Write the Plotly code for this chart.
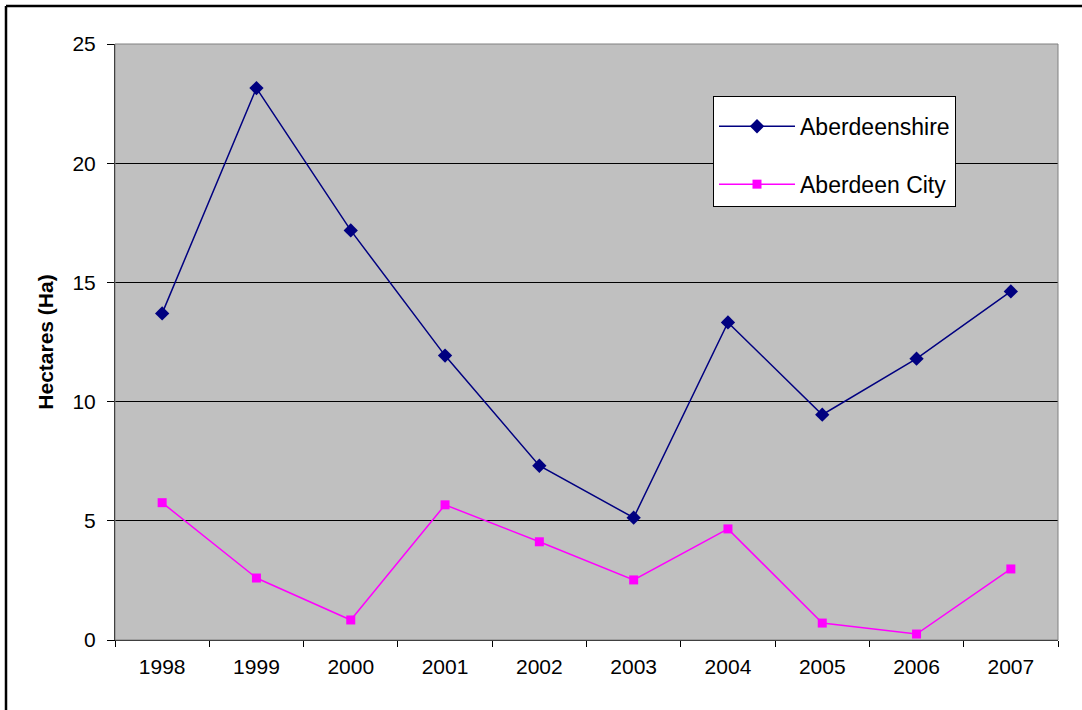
import plotly.graph_objects as go

years = ["1998", "1999", "2000", "2001", "2002", "2003", "2004", "2005", "2006", "2007"]
aberdeenshire = [13.7, 23.15, 17.18, 11.93, 7.31, 5.13, 13.32, 9.45, 11.8, 14.62]
aberdeen_city = [5.76, 2.6, 0.84, 5.67, 4.12, 2.52, 4.66, 0.71, 0.25, 2.98]

W, H = 1082, 710
L, R, T, B = 115, 24, 44, 70

fig = go.Figure()
fig.add_trace(go.Scatter(
    x=years, y=aberdeenshire, name="Aberdeenshire", mode="lines+markers",
    line=dict(color="#000080", width=1.5),
    marker=dict(symbol="diamond", size=11, color="#000080"),
    legendgroup="a"))
fig.add_trace(go.Scatter(
    x=years, y=aberdeen_city, name="Aberdeen City", mode="lines+markers",
    line=dict(color="#FF00FF", width=1.5),
    marker=dict(symbol="square", size=9, color="#FF00FF"),
    legendgroup="b"))

pw = W - L - R
ph = H - T - B

def px_x(x):
    return (x - L) / pw

def px_y(y):
    return (H - B - y) / ph

fig.update_layout(
    width=W, height=H,
    margin=dict(l=L, r=R, t=T, b=B),
    paper_bgcolor="white",
    plot_bgcolor="#C0C0C0",
    font=dict(family="Liberation Sans, Arial, sans-serif", size=21, color="black"),
    showlegend=True,
    legend=dict(
        x=px_x(713), y=px_y(96), xanchor="left", yanchor="top",
        bgcolor="white", bordercolor="black", borderwidth=1,
        font=dict(size=23), tracegroupgap=25, traceorder="grouped",
        itemwidth=76, entrywidth=272, entrywidthmode="pixels",
        title=dict(text="&nbsp;", font=dict(size=6)),
    ),
    xaxis=dict(
        type="category", range=[-0.5, 9.5],
        showgrid=False, ticks="outside", ticklen=6, tickcolor="black",
        tickson="boundaries", showline=True, linecolor="black", linewidth=1,
        tickfont=dict(size=21), zeroline=False, ticklabelstandoff=8,
    ),
    yaxis=dict(
        range=[0, 25], dtick=5, tick0=0,
        showgrid=True, gridcolor="#000000", gridwidth=1,
        ticks="outside", ticklen=7, tickcolor="black",
        showline=True, linecolor="black", linewidth=1,
        tickfont=dict(size=21), zeroline=False, ticklabelstandoff=7,
        title=dict(text="<b>Hectares (Ha)</b>", font=dict(size=21), standoff=13),
    ),
    shapes=[
        dict(type="rect", xref="paper", yref="paper", x0=0, x1=1, y0=0, y1=1,
             line=dict(color="#808080", width=1), fillcolor="rgba(0,0,0,0)", layer="above"),
        dict(type="line", xref="paper", yref="paper",
             x0=px_x(6), x1=px_x(1090), y0=px_y(6), y1=px_y(6),
             line=dict(color="black", width=2.5)),
        dict(type="line", xref="paper", yref="paper",
             x0=px_x(6), x1=px_x(6), y0=px_y(6), y1=px_y(720),
             line=dict(color="black", width=2.5)),
    ],
)

fig.write_html("out.html", config={"displayModeBar": False},
               post_script="document.body.style.margin='0';document.body.style.overflow='hidden';")
